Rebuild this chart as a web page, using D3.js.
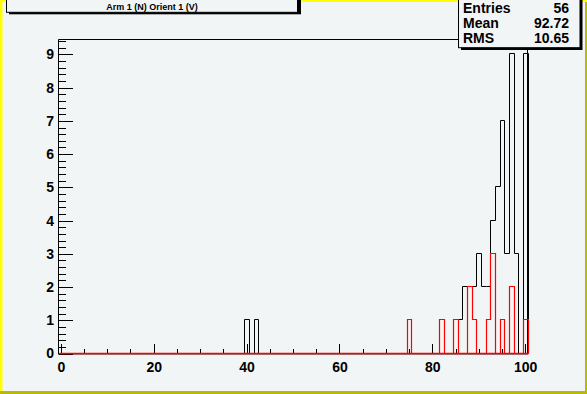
<!DOCTYPE html>
<html>
<head>
<meta charset="utf-8">
<script src="https://cdn.jsdelivr.net/npm/d3@7"></script>
<style>
  html, body { margin: 0; padding: 0; background: #f2f5f6; }
  svg { display: block; }
  text { font-family: "Liberation Sans", Arial, sans-serif; font-weight: bold; }
</style>
</head>
<body>
<svg id="chart" width="587" height="394"></svg>
<script>
// histogram: 101 bins centred on 0..100, only non-empty bins listed
const blackBins = [40, 42, 86, 87, 88, 89, 90, 91, 92, 93, 94, 95, 96, 97, 98, 100];
const blackVals = [1, 1, 1, 2, 2, 2, 3, 2, 2, 4, 5, 7, 3, 9, 3, 9];
const redBins = [75, 82, 85, 88, 89, 92, 93, 95, 97, 100];
const redVals = [1, 1, 1, 2, 1, 1, 3, 1, 2, 1];

const title = "Arm 1 (N) Orient 1 (V)";
const statNames = ["Entries", "Mean", "RMS"];
const statValues = ["56", "92.72", "10.65"];

const xTicks = [0, 20, 40, 60, 80, 100];
const yTicks = [0, 1, 2, 3, 4, 5, 6, 7, 8, 9];
const nBins = 101, xLow = -0.5, xHigh = 100.5, yMax = 9.45;

const W = 587, H = 394;
const frame = { left: 58.5, right: 527.5, top: 39.5, bottom: 353.5 };
const svg = d3.select("#chart");

const x = d3.scaleLinear().domain([xLow, xHigh]).range([frame.left, frame.right]);
const y = d3.scaleLinear().domain([0, yMax]).range([frame.bottom, frame.top]);

// canvas border (bevel)
svg.append("rect").attr("width", W).attr("height", H).attr("fill", "#f2f5f6");
svg.append("rect").attr("x", 0).attr("y", 0).attr("width", W).attr("height", 2).attr("fill", "#ffff00");
svg.append("rect").attr("x", 0).attr("y", 0).attr("width", 2.5).attr("height", H).attr("fill", "#ffff00");
svg.append("rect").attr("x", 0).attr("y", H - 3).attr("width", W).attr("height", 3).attr("fill", "#b9b900");
svg.append("rect").attr("x", W - 2).attr("y", 2).attr("width", 2).attr("height", H).attr("fill", "#b9b900");

function fullCounts(bins, vals) {
  const c = new Array(nBins).fill(0);
  bins.forEach((b, i) => { c[b - xLow - 0.5] = vals[i]; });
  return c;
}

function stepPoints(counts) {
  const pts = [[xLow, 0]];
  counts.forEach((v, i) => {
    const lo = xLow + i, hi = lo + 1;
    pts.push([lo, v], [hi, v]);
  });
  pts.push([xHigh, 0]);
  return pts;
}

const px = v => Math.round(x(v)) + 0.5;
const py = v => Math.round(y(v)) - 0.5;
const line = d3.line().x(d => px(d[0])).y(d => py(d[1]));

// frame (bottom edge one pixel below the zero line)
svg.append("path")
  .attr("d", `M${frame.left},${frame.bottom + 1}V${frame.top}H${frame.right}V${frame.bottom + 1}`)
  .attr("fill", "none").attr("stroke", "#000").attr("stroke-width", 1);
svg.append("line").attr("x1", frame.left).attr("x2", frame.right)
  .attr("y1", frame.bottom + 1).attr("y2", frame.bottom + 1)
  .attr("stroke", "#8a8a8a").attr("stroke-width", 1);

// axes ticks (inside frame)
const gx = svg.append("g").attr("transform", `translate(0,${frame.bottom})`);
gx.call(d3.axisBottom(x).tickValues(d3.range(0, 101, 5)).tickSize(-4.7).tickFormat(""));
gx.call(g => g.select(".domain").remove());
const gx2 = svg.append("g").attr("transform", `translate(0,${frame.bottom})`);
gx2.call(d3.axisBottom(x).tickValues(xTicks).tickSize(-9.4).tickPadding(0).tickFormat(d3.format("d")));
gx2.call(g => g.select(".domain").remove());
gx2.selectAll("text").attr("y", 18.5).attr("dy", null).attr("font-size", 14)
  .attr("font-family", null).attr("fill", "#000");

const gy = svg.append("g").attr("transform", `translate(${frame.left},0)`);
gy.call(d3.axisLeft(y).tickValues(d3.range(0, 9.45, 0.2)).tickSize(-7).tickFormat(""));
gy.call(g => g.select(".domain").remove());
const gy2 = svg.append("g").attr("transform", `translate(${frame.left},0)`);
gy2.call(d3.axisLeft(y).tickValues(yTicks).tickSize(-14).tickPadding(4.5).tickFormat(d3.format("d")));
gy2.call(g => g.select(".domain").remove());
gy2.selectAll("text").attr("font-size", 14).attr("font-family", null).attr("fill", "#000");
svg.selectAll(".tick line").attr("stroke", "#000").attr("shape-rendering", "crispEdges");

// histograms (red drawn last, on top of the black one and the axis)
svg.append("path").datum(stepPoints(fullCounts(blackBins, blackVals)))
  .attr("d", line).attr("fill", "none").attr("stroke", "#000").attr("stroke-width", 1);
svg.append("path").datum(stepPoints(fullCounts(redBins, redVals)))
  .attr("d", line).attr("fill", "none").attr("stroke", "#ff0000").attr("stroke-width", 1.2)
  .attr("stroke-linejoin", "miter");
// zero line of the red histogram, kept on top
svg.append("line").attr("x1", px(xLow)).attr("x2", px(xHigh))
  .attr("y1", py(0)).attr("y2", py(0))
  .attr("stroke", "#ff0000").attr("stroke-width", 1.5);

// title box
svg.append("rect").attr("x", 9).attr("y", -5).attr("width", 292).attr("height", 19.3).attr("fill", "#000");
svg.append("rect").attr("x", 6.5).attr("y", -5).attr("width", 291).attr("height", 17.3)
  .attr("fill", "#f2f5f6").attr("stroke", "#000").attr("stroke-width", 1);
svg.append("text").attr("x", 152).attr("y", 10.3).attr("text-anchor", "middle")
  .attr("font-size", 9).text(title);

// stats box
svg.append("rect").attr("x", 461).attr("y", -5).attr("width", 121.5).attr("height", 55).attr("fill", "#000");
svg.append("rect").attr("x", 458.5).attr("y", -5).attr("width", 121.5).attr("height", 52.7)
  .attr("fill", "#f2f5f6").attr("stroke", "#000").attr("stroke-width", 1);
statNames.forEach((s, i) => {
  const by = 13.3 + i * 15;
  svg.append("text").attr("x", 463).attr("y", by).attr("font-size", 14).text(s);
  svg.append("text").attr("x", 569).attr("y", by).attr("font-size", 14)
    .attr("text-anchor", "end").text(statValues[i]);
});
</script>
</body>
</html>
